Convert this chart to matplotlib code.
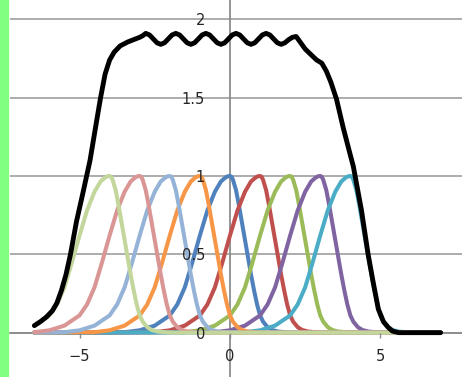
import numpy as np
import matplotlib.pyplot as plt
from matplotlib.patches import Rectangle

# peak positions of the nine coloured bumps, in drawing order (Excel series order)
centers = [0, 1, 2, 3, 4, -1, -2, -3, -4]
colors = ['#4F81BD', '#C0504D', '#9BBB59', '#8064A2', '#4BACC6',
          '#F79646', '#95B3D7', '#D99694', '#C3D69B']

# shape of one bump (offset from its peak, height)
prof_dx = [-3.5, -3.0, -2.5, -2.0, -1.75, -1.5, -1.25, -1.0, -0.75, -0.5,
           -0.3, -0.15, -0.07, 0.0, 0.05, 0.1, 0.2, 0.3, 0.4, 0.5, 0.6, 0.7,
           0.8, 0.9, 1.0, 1.1, 1.25, 1.4, 1.6, 1.9, 2.2]
prof_y = [0.003, 0.015, 0.045, 0.11, 0.18, 0.29, 0.45, 0.62, 0.78, 0.90,
          0.965, 0.99, 0.998, 1.0, 0.995, 0.975, 0.91, 0.81, 0.70, 0.59, 0.48,
          0.37, 0.27, 0.18, 0.11, 0.07, 0.035, 0.017, 0.007, 0.002, 0.0]

# black total curve
sum_x = [-6.5, -6.3, -6.1, -5.9, -5.75, -5.6, -5.45, -5.3, -5.1, -4.9, -4.65,
         -4.45, -4.3, -4.15, -4.0, -3.85, -3.65, -3.4, -3.2, -3.0, -2.9,
         -2.8, -2.675, -2.55, -2.425, -2.3, -2.175, -2.05, -1.925,
         -1.8, -1.675, -1.55, -1.425, -1.3, -1.175, -1.05, -0.925,
         -0.8, -0.675, -0.55, -0.425, -0.3, -0.175, -0.05, 0.075,
         0.2, 0.325, 0.45, 0.575, 0.7, 0.825, 0.95, 1.075,
         1.2, 1.325, 1.45, 1.575, 1.7, 1.825, 1.95, 2.075,
         2.2, 2.35, 2.5, 2.66, 2.88, 3.05, 3.2, 3.35, 3.54, 3.76, 3.99, 4.1,
         4.37, 4.59, 4.76, 4.93, 5.1, 5.25, 5.4, 5.6, 6.0, 7.0]
sum_y = [0.045, 0.07, 0.10, 0.14, 0.19, 0.27, 0.37, 0.50, 0.71, 0.88, 1.10,
         1.33, 1.50, 1.65, 1.74, 1.79, 1.83, 1.855, 1.87, 1.885, 1.895,
         1.91, 1.90, 1.875, 1.85, 1.84, 1.85, 1.875, 1.90,
         1.91, 1.90, 1.875, 1.85, 1.84, 1.85, 1.875, 1.90,
         1.91, 1.90, 1.875, 1.85, 1.84, 1.85, 1.875, 1.90,
         1.91, 1.90, 1.875, 1.85, 1.84, 1.85, 1.875, 1.90,
         1.91, 1.90, 1.875, 1.85, 1.84, 1.85, 1.87, 1.885,
         1.89, 1.85, 1.81, 1.78, 1.74, 1.72, 1.67, 1.60, 1.49, 1.31, 1.14, 1.06,
         0.78, 0.50, 0.32, 0.15, 0.07, 0.035, 0.01, 0.0, 0.0, 0.0]

x_ticks = [-5, 0, 5]
y_ticks = [0, 0.5, 1, 1.5, 2]
x_start, x_end = -6.5, 7.0

fig = plt.figure(figsize=(4.62, 3.77), dpi=100)
fig.patches.append(Rectangle((0, 0), 8 / 462, 1, transform=fig.transFigure,
                             color='#80FF80', zorder=0))
ax = fig.add_axes([10 / 462, 0, 452 / 462, 1])

for y in y_ticks:
    ax.axhline(y, color='#A6A6A6', lw=1.3, zorder=0.5)

dx = np.array(prof_dx)
py = np.array(prof_y)
for c, col in zip(centers, colors):
    xs = c + dx
    keep = xs >= x_start
    xs = xs[keep]
    ys = py[keep]
    if xs[0] > x_start:
        xs = np.r_[x_start, xs]
        ys = np.r_[0.0, ys]
    xs = np.r_[xs, x_end]
    ys = np.r_[ys, 0.0]
    ax.plot(xs, ys, color=col, lw=2.9, solid_capstyle='round',
            solid_joinstyle='round', zorder=2)

ax.plot(sum_x, sum_y, color='black', lw=3.5, solid_capstyle='round',
        solid_joinstyle='round', zorder=2.2)

ax.set_xlim(-7.31, 7.71)
ax.set_ylim(-0.283, 2.123)
ax.set_xticks(x_ticks)
ax.set_yticks(y_ticks)
ax.set_yticklabels(['0', '0.5', '1', '1.5', '2'])
ax.set_axisbelow(False)

for s in ['top', 'right']:
    ax.spines[s].set_visible(False)
ax.spines['left'].set_position(('data', 0))
ax.spines['bottom'].set_position(('data', 0))
for s in ['left', 'bottom']:
    ax.spines[s].set_color('#8C8C8C')
    ax.spines[s].set_linewidth(1.3)
    ax.spines[s].set_zorder(0.6)

ax.tick_params(axis='y', length=0, pad=18, labelsize=10.5, labelcolor='#262626')
ax.tick_params(axis='x', direction='out', length=3.5, width=1, color='#8C8C8C',
               pad=8, labelsize=10.5, labelcolor='#262626')
for lab in ax.get_xticklabels() + ax.get_yticklabels():
    lab.set_family('DejaVu Sans')

ax.patch.set_alpha(0)
fig.savefig('out.png', dpi=100)
